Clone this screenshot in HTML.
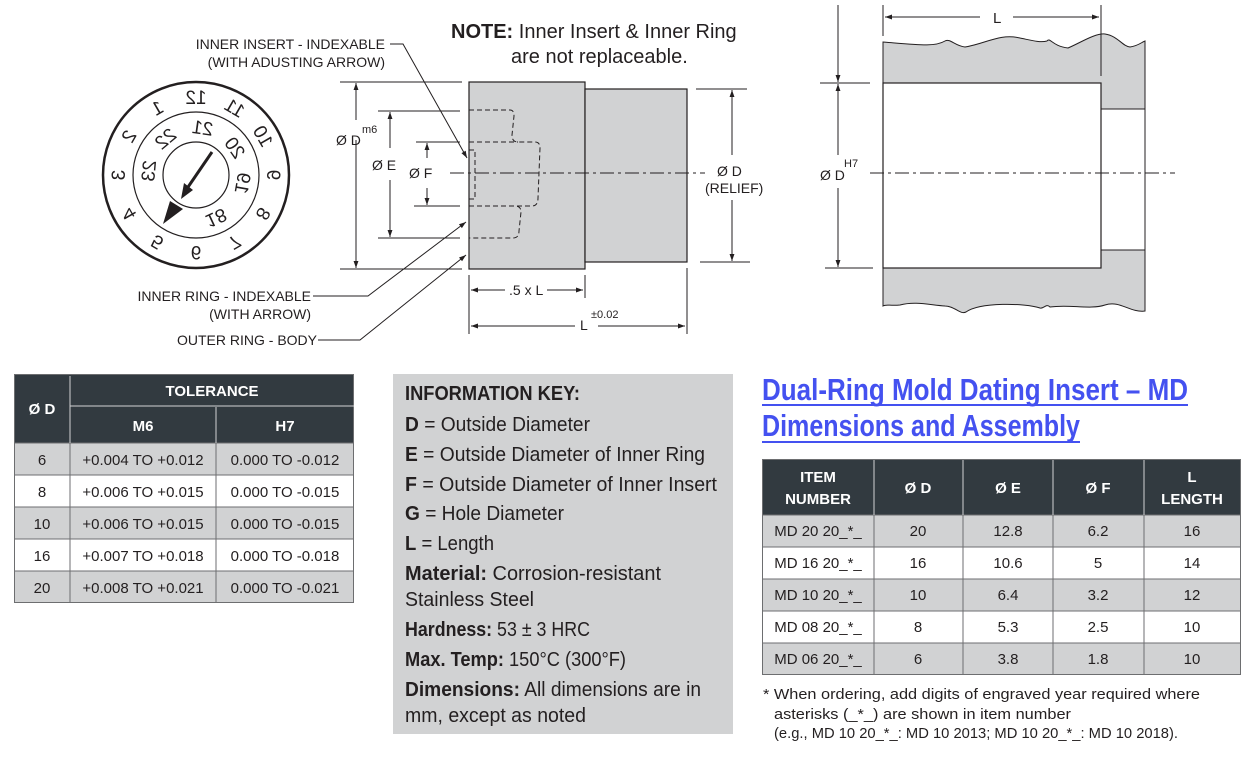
<!DOCTYPE html>
<html><head><meta charset="utf-8"><style>
body{margin:0;background:#fff}
svg{display:block}
text{font-family:"Liberation Sans Narrow","Liberation Sans",sans-serif;fill:#231f20}
.b{font-weight:bold}
.w{fill:#fff;font-weight:bold}
</style></head><body>
<svg width="1252" height="759" viewBox="0 0 1252 759" xmlns="http://www.w3.org/2000/svg">
<defs>
<marker id="a" viewBox="0 0 10 10" refX="10" refY="5" markerWidth="9" markerHeight="7" orient="auto-start-reverse" markerUnits="userSpaceOnUse"><path d="M0,1.5 L10,5 L0,8.5 Z" fill="#231f20"/></marker>
</defs>
<g stroke="#231f20" fill="none">
<circle cx="196" cy="175" r="93" stroke-width="2.5"/>
<circle cx="196" cy="175" r="63" stroke-width="1.2"/>
<circle cx="196" cy="175" r="33" stroke-width="1.2"/>
<line x1="212" y1="152" x2="186" y2="190" stroke-width="3"/>
</g>
<path d="M181,199 L184,183 L193,190 Z" fill="#231f20"/>
<path d="M163,224 L183,209 L170,201 Z" fill="#231f20"/>
<g font-size="19" text-anchor="middle">
<g transform="translate(196,175)">
<text transform="rotate(0) translate(0,-71) scale(-1,1)">12</text>
<text transform="rotate(30) translate(0,-71) scale(-1,1)">11</text>
<text transform="rotate(60) translate(0,-71) scale(-1,1)">10</text>
<text transform="rotate(90) translate(0,-71) scale(-1,1)">9</text>
<text transform="rotate(120) translate(0,-71) scale(-1,1)">8</text>
<text transform="rotate(150) translate(0,-71) scale(-1,1)">7</text>
<text transform="rotate(180) translate(0,-71) scale(-1,1)">6</text>
<text transform="rotate(-150) translate(0,-71) scale(-1,1)">5</text>
<text transform="rotate(-120) translate(0,-71) scale(-1,1)">4</text>
<text transform="rotate(-90) translate(0,-71) scale(-1,1)">3</text>
<text transform="rotate(-60) translate(0,-71) scale(-1,1)">2</text>
<text transform="rotate(-30) translate(0,-71) scale(-1,1)">1</text>
<text transform="rotate(8) translate(0,-41) scale(-1,1)">21</text>
<text transform="rotate(55) translate(0,-41) scale(-1,1)">20</text>
<text transform="rotate(100) translate(0,-41) scale(-1,1)">19</text>
<text transform="rotate(155) translate(0,-41) scale(-1,1)">18</text>
<text transform="rotate(-40) translate(0,-41) scale(-1,1)">22</text>
<text transform="rotate(-85) translate(0,-41) scale(-1,1)">23</text>
</g>
</g>
<g font-size="14" text-anchor="end">
<text x="385" y="49">INNER INSERT - INDEXABLE</text>
<text x="385" y="67">(WITH ADUSTING ARROW)</text>
<text x="311" y="301">INNER RING - INDEXABLE</text>
<text x="311" y="319">(WITH ARROW)</text>
<text x="317" y="345">OUTER RING - BODY</text>
</g>
<g stroke="#231f20" stroke-width="1" fill="none">
<polyline points="390,44 403,44 467,158" marker-end="url(#a)"/>
<polyline points="313,296 368,296 466,222" marker-end="url(#a)"/>
<polyline points="318,340 360,340 466,255" marker-end="url(#a)"/>
</g>
<text x="451" y="38" font-size="20"><tspan class="b">NOTE:</tspan> Inner Insert &amp; Inner Ring</text>
<text x="511" y="63" font-size="20">are not replaceable.</text>
<rect x="469" y="82" width="116" height="187" fill="#d1d2d3" stroke="#231f20" stroke-width="1.2"/>
<rect x="585" y="89" width="102" height="173" fill="#d1d2d3" stroke="#231f20" stroke-width="1.2"/>
<g stroke="#231f20" stroke-width="1" fill="none" stroke-dasharray="5,3">
<path d="M469,110 H510 Q514,110 514,116 L512,135 Q512,142 518,142 H535 Q540,142 540,148 L538,198 Q538,206 532,206 H469"/>
<path d="M469,142 H518"/>
<path d="M469,150 H475 V199 H469"/>
<path d="M469,206 H515 Q521,206 521,212 L519,231 Q519,238 513,238 H469"/>
</g>
<line x1="450" y1="173" x2="705" y2="173" stroke="#231f20" stroke-width="1" stroke-dasharray="14,4,3,4"/>
<g stroke="#231f20" stroke-width="1">
<line x1="340" y1="82" x2="462" y2="82"/><line x1="340" y1="269" x2="462" y2="269"/>
<line x1="378" y1="111" x2="460" y2="111"/><line x1="378" y1="238" x2="460" y2="238"/>
<line x1="416" y1="142" x2="460" y2="142"/><line x1="414" y1="206" x2="460" y2="206"/>
<line x1="696" y1="89" x2="747" y2="89"/><line x1="700" y1="262" x2="750" y2="262"/>
<line x1="469" y1="275" x2="469" y2="334"/><line x1="585" y1="275" x2="585" y2="298"/><line x1="687" y1="268" x2="687" y2="334"/>
<line x1="356" y1="120" x2="356" y2="83" marker-end="url(#a)"/><line x1="356" y1="140" x2="356" y2="268" marker-end="url(#a)"/>
<line x1="390" y1="148" x2="390" y2="112" marker-end="url(#a)"/><line x1="390" y1="180" x2="390" y2="237" marker-end="url(#a)"/>
<line x1="427" y1="158" x2="427" y2="143" marker-end="url(#a)"/><line x1="427" y1="188" x2="427" y2="205" marker-end="url(#a)"/>
<line x1="732" y1="155" x2="732" y2="90" marker-end="url(#a)"/><line x1="732" y1="200" x2="732" y2="261" marker-end="url(#a)"/>
<line x1="505" y1="290" x2="471" y2="290" marker-end="url(#a)"/><line x1="547" y1="290" x2="583" y2="290" marker-end="url(#a)"/>
<line x1="575" y1="326" x2="471" y2="326" marker-end="url(#a)"/><line x1="598" y1="326" x2="685" y2="326" marker-end="url(#a)"/>
</g>
<g font-size="14">
<text x="336" y="145">Ø D</text><text x="362" y="133" font-size="11">m6</text>
<text x="372" y="170">Ø E</text>
<text x="409" y="178">Ø F</text>
<text x="717" y="176">Ø D</text>
<text x="705" y="193">(RELIEF)</text>
<text x="509" y="295">.5 x L</text>
<text x="580" y="330">L</text><text x="591" y="318" font-size="11">±0.02</text>
</g>
<path d="M883,42 C920,45 935,47 945,41 C950,38 955,46 965,47 C985,44 1000,33 1020,38 C1030,40 1040,43 1047,41 C1050,37 1052,46 1068,48 C1080,43 1095,33 1105,34 C1118,36 1122,46 1130,47 C1138,46 1142,42 1145,41 V109 H1101 V83 H883 Z" fill="#d1d2d3" stroke="#231f20" stroke-width="1"/>
<path d="M883,268 H1101 V250 H1145 V311 C1130,313 1120,300 1105,305 C1090,310 1070,304 1050,307 C1046,303 1044,309 1040,308 C1025,303 980,302 966,312 C960,315 955,306 945,306 C930,305 915,301 900,305 C890,306 886,304 883,306 Z" fill="#d1d2d3" stroke="#231f20" stroke-width="1"/>
<rect x="883" y="83" width="218" height="185" fill="#fff" stroke="#231f20" stroke-width="1.2"/>
<line x1="1101" y1="109" x2="1145" y2="109" stroke="#231f20"/>
<line x1="1145" y1="109" x2="1145" y2="250" stroke="#231f20"/>
<line x1="870" y1="173" x2="1175" y2="173" stroke="#231f20" stroke-dasharray="14,4,3,4"/>
<g stroke="#231f20" stroke-width="1">
<line x1="883" y1="5" x2="883" y2="36"/><line x1="1101" y1="5" x2="1101" y2="76"/>
<line x1="980" y1="17" x2="885" y2="17" marker-end="url(#a)"/><line x1="1013" y1="17" x2="1099" y2="17" marker-end="url(#a)"/>
<line x1="820" y1="83" x2="870" y2="83"/><line x1="825" y1="268" x2="873" y2="268"/>
<line x1="838" y1="5" x2="838" y2="82" marker-end="url(#a)"/>
<line x1="838" y1="155" x2="838" y2="84" marker-end="url(#a)"/>
<line x1="838" y1="188" x2="838" y2="267" marker-end="url(#a)"/>
</g>
<text x="993" y="23" font-size="15">L</text>
<text x="820" y="180" font-size="14">Ø D</text><text x="844" y="167" font-size="11">H7</text>
<rect x="14" y="374" width="340" height="69" fill="#323a40"/>
<rect x="14" y="443" width="340" height="32" fill="#d1d2d3"/>
<rect x="14" y="475" width="340" height="32" fill="#fff"/>
<rect x="14" y="507" width="340" height="32" fill="#d1d2d3"/>
<rect x="14" y="539" width="340" height="32" fill="#fff"/>
<rect x="14" y="571" width="340" height="32" fill="#d1d2d3"/>
<g stroke="#6d6e70" stroke-width="1">
<rect x="14.5" y="374.5" width="339" height="228" fill="none"/>
<line x1="14" y1="475" x2="354" y2="475"/><line x1="14" y1="507" x2="354" y2="507"/><line x1="14" y1="539" x2="354" y2="539"/><line x1="14" y1="571" x2="354" y2="571"/><line x1="14" y1="443" x2="354" y2="443"/>
<line x1="70" y1="443" x2="70" y2="603"/><line x1="216" y1="443" x2="216" y2="603"/>
</g>
<g stroke="#d1d2d3" stroke-width="1"><line x1="70" y1="376" x2="70" y2="443"/><line x1="70" y1="406" x2="354" y2="406"/><line x1="216" y1="407" x2="216" y2="443"/></g>
<g font-size="15" text-anchor="middle">
<text class="w" x="42" y="414">Ø D</text>
<text class="w" x="212" y="396">TOLERANCE</text>
<text class="w" x="143" y="431">M6</text><text class="w" x="285" y="431">H7</text>
<text x="42" y="465">6</text><text x="143" y="465">+0.004 TO +0.012</text><text x="285" y="465">0.000 TO -0.012</text>
<text x="42" y="497">8</text><text x="143" y="497">+0.006 TO +0.015</text><text x="285" y="497">0.000 TO -0.015</text>
<text x="42" y="529">10</text><text x="143" y="529">+0.006 TO +0.015</text><text x="285" y="529">0.000 TO -0.015</text>
<text x="42" y="561">16</text><text x="143" y="561">+0.007 TO +0.018</text><text x="285" y="561">0.000 TO -0.018</text>
<text x="42" y="593">20</text><text x="143" y="593">+0.008 TO +0.021</text><text x="285" y="593">0.000 TO -0.021</text>
</g>
<rect x="393" y="374" width="340" height="360" fill="#d1d2d3"/>
<g font-size="20">
<text x="405" y="400" class="b" textLength="175" lengthAdjust="spacingAndGlyphs">INFORMATION KEY:</text>
<text x="405" y="431" textLength="185" lengthAdjust="spacingAndGlyphs"><tspan class="b">D</tspan> = Outside Diameter</text>
<text x="405" y="461" textLength="300" lengthAdjust="spacingAndGlyphs"><tspan class="b">E</tspan> = Outside Diameter of Inner Ring</text>
<text x="405" y="491" textLength="312" lengthAdjust="spacingAndGlyphs"><tspan class="b">F</tspan> = Outside Diameter of Inner Insert</text>
<text x="405" y="520" textLength="159" lengthAdjust="spacingAndGlyphs"><tspan class="b">G</tspan> = Hole Diameter</text>
<text x="405" y="550" textLength="89" lengthAdjust="spacingAndGlyphs"><tspan class="b">L</tspan> = Length</text>
<text x="405" y="580" textLength="256" lengthAdjust="spacingAndGlyphs"><tspan class="b">Material:</tspan> Corrosion-resistant</text>
<text x="405" y="606" textLength="129" lengthAdjust="spacingAndGlyphs">Stainless Steel</text>
<text x="405" y="636" textLength="185" lengthAdjust="spacingAndGlyphs"><tspan class="b">Hardness:</tspan> 53 ± 3 HRC</text>
<text x="405" y="666" textLength="221" lengthAdjust="spacingAndGlyphs"><tspan class="b">Max. Temp:</tspan> 150°C (300°F)</text>
<text x="405" y="696" textLength="296" lengthAdjust="spacingAndGlyphs"><tspan class="b">Dimensions:</tspan> All dimensions are in</text>
<text x="405" y="722" textLength="181" lengthAdjust="spacingAndGlyphs">mm, except as noted</text>
</g>
<g font-size="31" class="b">
<text x="762" y="400" style="fill:#4451f0;font-weight:bold" textLength="426" lengthAdjust="spacingAndGlyphs">Dual-Ring Mold Dating Insert – MD</text>
<text x="762" y="436" style="fill:#4451f0;font-weight:bold" textLength="318" lengthAdjust="spacingAndGlyphs">Dimensions and Assembly</text>
</g>
<rect x="762" y="404" width="426" height="2" fill="#4451f0"/>
<rect x="762" y="441" width="318" height="2" fill="#4451f0"/>
<rect x="762" y="459" width="479" height="56" fill="#323a40"/>
<rect x="762" y="515" width="479" height="32" fill="#d1d2d3"/>
<rect x="762" y="579" width="479" height="32" fill="#d1d2d3"/>
<rect x="762" y="643" width="479" height="32" fill="#d1d2d3"/>
<g stroke="#6d6e70" stroke-width="1">
<rect x="762.5" y="459.5" width="478" height="215" fill="none"/>
<line x1="762" y1="515" x2="1241" y2="515"/><line x1="762" y1="547" x2="1241" y2="547"/><line x1="762" y1="579" x2="1241" y2="579"/><line x1="762" y1="611" x2="1241" y2="611"/><line x1="762" y1="643" x2="1241" y2="643"/>
<line x1="874" y1="515" x2="874" y2="675"/><line x1="963" y1="515" x2="963" y2="675"/><line x1="1053" y1="515" x2="1053" y2="675"/><line x1="1144" y1="515" x2="1144" y2="675"/>
</g>
<g stroke="#d1d2d3"><line x1="874" y1="460" x2="874" y2="515"/><line x1="963" y1="460" x2="963" y2="515"/><line x1="1053" y1="460" x2="1053" y2="515"/><line x1="1144" y1="460" x2="1144" y2="515"/></g>
<g font-size="15" text-anchor="middle">
<text class="w" x="818" y="482">ITEM</text><text class="w" x="818" y="504">NUMBER</text>
<text class="w" x="918" y="493">Ø D</text><text class="w" x="1008" y="493">Ø E</text><text class="w" x="1098" y="493">Ø F</text>
<text class="w" x="1192" y="482">L</text><text class="w" x="1192" y="504">LENGTH</text>
<text x="818" y="536">MD 20 20_*_</text><text x="918" y="536">20</text><text x="1008" y="536">12.8</text><text x="1098" y="536">6.2</text><text x="1192" y="536">16</text>
<text x="818" y="568">MD 16 20_*_</text><text x="918" y="568">16</text><text x="1008" y="568">10.6</text><text x="1098" y="568">5</text><text x="1192" y="568">14</text>
<text x="818" y="600">MD 10 20_*_</text><text x="918" y="600">10</text><text x="1008" y="600">6.4</text><text x="1098" y="600">3.2</text><text x="1192" y="600">12</text>
<text x="818" y="632">MD 08 20_*_</text><text x="918" y="632">8</text><text x="1008" y="632">5.3</text><text x="1098" y="632">2.5</text><text x="1192" y="632">10</text>
<text x="818" y="664">MD 06 20_*_</text><text x="918" y="664">6</text><text x="1008" y="664">3.8</text><text x="1098" y="664">1.8</text><text x="1192" y="664">10</text>
</g>
<g font-size="15">
<text x="763" y="699" textLength="437" lengthAdjust="spacingAndGlyphs">* When ordering, add digits of engraved year required where</text>
<text x="774" y="719" textLength="297" lengthAdjust="spacingAndGlyphs">asterisks (_*_) are shown in item number</text>
<text x="774" y="738" textLength="404" lengthAdjust="spacingAndGlyphs">(e.g., MD 10 20_*_: MD 10 2013; MD 10 20_*_: MD 10 2018).</text>
</g>
</svg>
</body></html>
